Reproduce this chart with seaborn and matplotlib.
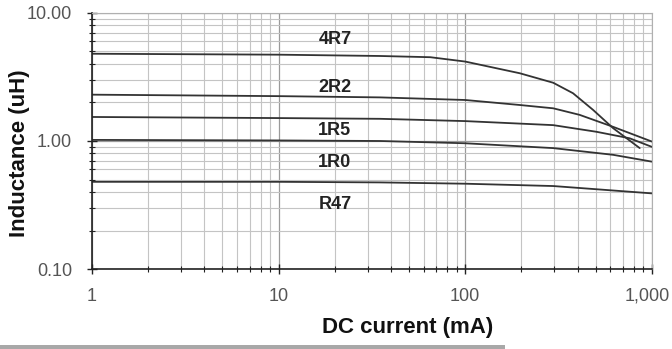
import matplotlib
matplotlib.use("Agg")
import matplotlib.pyplot as plt
import matplotlib.ticker as mticker
import matplotlib.transforms as mtransforms
from matplotlib.patches import Rectangle
import numpy as np
import pandas as pd
import seaborn as sns

# DC bias curves (current in mA, inductance in uH)
current_4r7 = [1, 10, 35, 65, 100, 196, 296, 378, 484, 620, 861]
induct_4r7 = [4.80, 4.72, 4.61, 4.51, 4.17, 3.38, 2.85, 2.36, 1.75, 1.26, 0.88]

current_2r2 = [1, 10, 35, 100, 196, 296, 410, 620, 1000]
induct_2r2 = [2.30, 2.24, 2.19, 2.09, 1.91, 1.80, 1.60, 1.29, 0.99]

current_1r5 = [1, 10, 35, 100, 296, 505, 760, 1000]
induct_1r5 = [1.54, 1.51, 1.49, 1.43, 1.33, 1.18, 1.05, 0.90]

current_1r0 = [1, 10, 35, 100, 296, 620, 1000]
induct_1r0 = [1.02, 1.01, 1.00, 0.96, 0.88, 0.78, 0.69]

current_r47 = [1, 10, 35, 100, 296, 505, 1000]
induct_r47 = [0.48, 0.48, 0.475, 0.464, 0.445, 0.42, 0.39]

parts = ["4R7", "2R2", "1R5", "1R0", "R47"]
label_y = [6.18, 2.62, 1.20, 0.685, 0.318]
label_x = 20

x_ticks = [1, 10, 100, 1000]
y_ticks = [0.1, 1, 10]

series = {
    "4R7": (current_4r7, induct_4r7),
    "2R2": (current_2r2, induct_2r2),
    "1R5": (current_1r5, induct_1r5),
    "1R0": (current_1r0, induct_1r0),
    "R47": (current_r47, induct_r47),
}
df = pd.concat(
    [pd.DataFrame({"part": p, "current": c, "inductance": v}) for p, (c, v) in series.items()],
    ignore_index=True,
)

sns.set_theme(style="white")
plt.rcParams["font.family"] = ["Liberation Sans", "DejaVu Sans"]

fig = plt.figure(figsize=(6.72, 3.49), dpi=100)
ax = fig.add_axes([0.137, 0.229, 0.833, 0.734])

sns.lineplot(
    data=df, x="current", y="inductance", hue="part", units="part",
    estimator=None, sort=False, palette=["#333333"] * 5,
    linewidth=1.3, legend=False, ax=ax,
)

ax.set_xscale("log")
ax.set_yscale("log")
ax.set_xlim(1, 1000)
ax.set_ylim(0.1, 10)

ax.set_xticks(x_ticks)
ax.set_yticks(y_ticks)
ax.xaxis.set_minor_locator(mticker.LogLocator(base=10, subs=np.arange(2, 10)))
ax.yaxis.set_minor_locator(mticker.LogLocator(base=10, subs=np.arange(2, 10)))
ax.set_xticklabels([f"{v:,.0f}" for v in x_ticks])
ax.set_yticklabels([f"{v:.2f}" for v in y_ticks])
ax.xaxis.set_minor_formatter(mticker.NullFormatter())
ax.yaxis.set_minor_formatter(mticker.NullFormatter())

ax.grid(which="major", color="#9a9a9a", linewidth=0.9)
ax.grid(which="minor", color="#c4c4c4", linewidth=0.8)

for side in ["top", "right"]:
    ax.spines[side].set_color("#b0b0b0")
    ax.spines[side].set_linewidth(0.8)
for side in ["left", "bottom"]:
    ax.spines[side].set_color("#222222")
    ax.spines[side].set_linewidth(1.2)

ax.tick_params(axis="both", which="both", direction="inout", color="#222222",
               bottom=True, left=True)
ax.tick_params(axis="both", which="major", length=7, width=1.0)
ax.tick_params(axis="both", which="minor", length=5, width=0.8)
ax.tick_params(axis="y", which="major", labelsize=13, labelcolor="#555555", pad=11)
ax.tick_params(axis="x", which="major", labelsize=13, labelcolor="#555555", pad=10)

# nudge the last x label left so it stays inside the figure
shift = mtransforms.ScaledTranslation(-5 / 100, 0, fig.dpi_scale_trans)
last = ax.get_xticklabels()[-1]
last.set_transform(last.get_transform() + shift)

for p, y in zip(parts, label_y):
    ax.text(label_x, y, p, ha="center", va="center", fontsize=13,
            fontweight="bold", color="#222222")

ax.set_xlabel("DC current (mA)", fontsize=16, fontweight="bold", color="#111111")
ax.set_ylabel("Inductance (uH)", fontsize=16, fontweight="bold", color="#111111")
ax.xaxis.set_label_coords(0.5645, -0.227)
ax.yaxis.set_label_coords(-0.129, 0.451)
ax.xaxis.label.set_va("center")
ax.yaxis.label.set_va("center")

fig.add_artist(Rectangle((0, 0), 0.752, 0.012, transform=fig.transFigure,
                         color="#a8a8a8", lw=0))

fig.savefig("out.png", dpi=100)
